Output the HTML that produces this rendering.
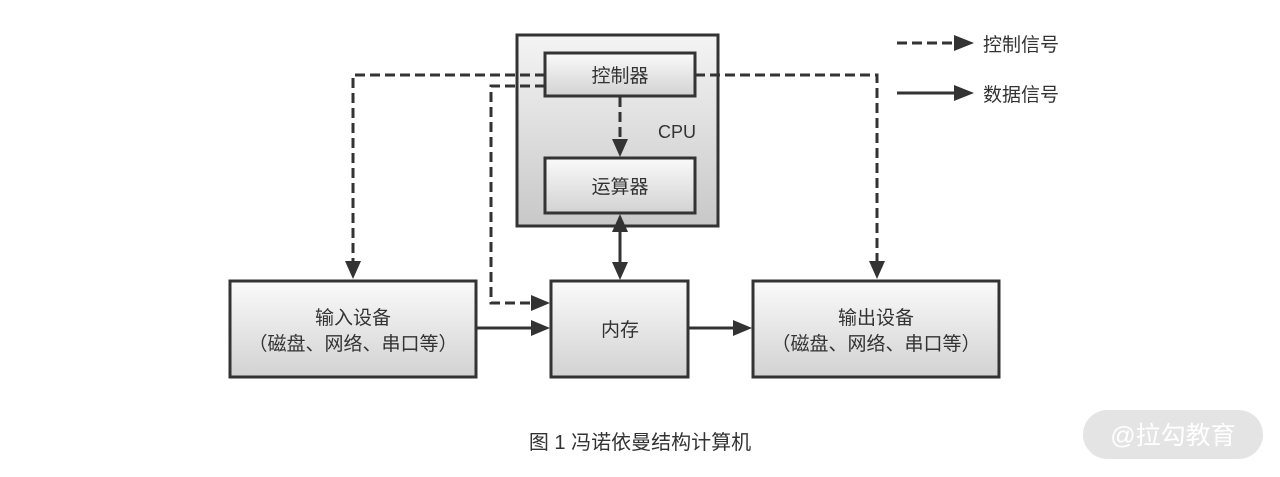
<!DOCTYPE html>
<html><head><meta charset="utf-8"><style>
html,body{margin:0;padding:0;background:#fff;width:1280px;height:477px;overflow:hidden}
text{font-family:"Liberation Sans","Noto Sans CJK SC",sans-serif;fill:#333}
</style></head><body>
<svg width="1280" height="477" viewBox="0 0 1280 477" xmlns="http://www.w3.org/2000/svg">
<defs>
<linearGradient id="g" x1="0" y1="0" x2="0" y2="1"><stop offset="0" stop-color="#fafafa"/><stop offset="1" stop-color="#d2d2d2"/></linearGradient>
<linearGradient id="g2" x1="0" y1="0" x2="0" y2="1"><stop offset="0" stop-color="#f4f4f4"/><stop offset="1" stop-color="#c8c8c8"/></linearGradient>
</defs>
<g stroke="#333" stroke-width="3">
<rect x="517" y="35" width="201" height="191" fill="url(#g2)"/>
<rect x="545" y="53" width="150" height="43" fill="url(#g)"/>
<rect x="545" y="158" width="150" height="55" fill="url(#g)"/>
<rect x="230" y="281" width="246" height="96" fill="url(#g)"/>
<rect x="551" y="281" width="137" height="96" fill="url(#g)"/>
<rect x="753" y="281" width="246" height="96" fill="url(#g)"/>
</g>
<g stroke="#333" stroke-width="3" fill="none" stroke-dasharray="10,5">
<path d="M545,75 H353 V262"/>
<path d="M545,86 H491 V303 H532"/>
<path d="M695,75 H877 V262"/>
<path d="M620,97 V140"/>
<path d="M897,43 H955"/>
</g>
<g stroke="#333" stroke-width="3" fill="none">
<path d="M620,232 V262"/>
<path d="M476,328 H532"/>
<path d="M688,328 H734"/>
<path d="M897,93 H955"/>
</g>
<g fill="#333">
<path d="M345,261 L361,261 L353,279 Z"/>
<path d="M869,261 L885,261 L877,279 Z"/>
<path d="M612,139 L628,139 L620,157 Z"/>
<path d="M612,262 L628,262 L620,280 Z"/>
<path d="M612,232 L628,232 L620,214 Z"/>
<path d="M531,295 L531,311 L550,303 Z"/>
<path d="M531,320 L531,336 L550,328 Z"/>
<path d="M733,320 L733,336 L752,328 Z"/>
<path d="M954,35 L954,51 L974,43 Z"/>
<path d="M954,85 L954,101 L974,93 Z"/>
</g>
<g font-size="19" text-anchor="middle">
<text x="620" y="82">控制器</text>
<text x="620" y="193">运算器</text>
<text x="677" y="138" font-size="18">CPU</text>
<text x="353" y="324">输入设备</text>
<text x="353" y="350">（磁盘、网络、串口等）</text>
<text x="620" y="336">内存</text>
<text x="876" y="324">输出设备</text>
<text x="876" y="350">（磁盘、网络、串口等）</text>
<text x="640" y="449" font-size="20">图 1  冯诺依曼结构计算机</text>
</g>
<text x="983" y="51" font-size="19">控制信号</text>
<text x="983" y="101" font-size="19">数据信号</text>
<rect x="1083" y="410" width="180" height="49" rx="24.5" fill="#e4e4e4"/>
<text x="1173" y="444" font-size="25" text-anchor="middle" style="fill:#fff">@拉勾教育</text>
</svg>
</body></html>
